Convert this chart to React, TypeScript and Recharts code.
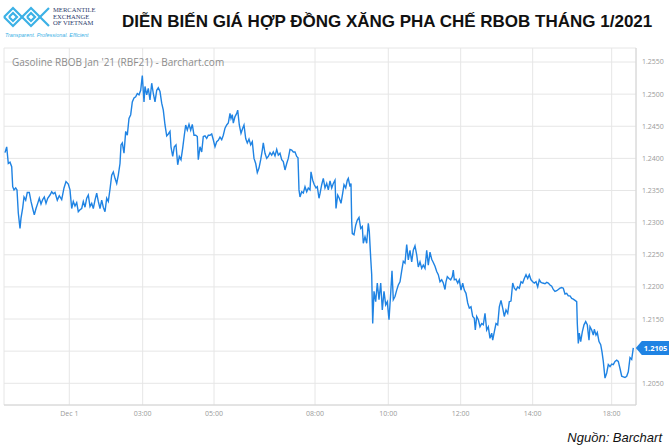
import React from "react";
import {
  LineChart,
  Line,
  XAxis,
  YAxis,
  CartesianGrid,
  ReferenceDot,
} from "recharts";

// time slots along the session axis (chart units)
const slots = [
  5, 6.7, 8.3, 10, 11.7, 12.7, 14, 15.7, 17, 18.3,
  20, 21, 22.7, 24, 25.7, 27.3, 29.3, 31, 32.7, 34.3,
  36, 37.7, 39.3, 41, 42.7, 44.3, 46, 47.7, 50, 51.7,
  53.3, 55, 57.3, 59.3, 61.7, 64, 66, 68.3, 70, 71.7,
  73.3, 75, 76.7, 78.3, 80, 81.7, 83.3, 85, 86.7, 88.3,
  90, 91.7, 93.3, 95, 96.7, 98.3, 100, 101.7, 103.3, 105,
  106.7, 108.3, 110, 111.7, 113.3, 115, 116.7, 118.3, 120, 121,
  122.3, 124, 125.7, 127.3, 129, 130.7, 132.3, 134, 135.7, 137.3,
  139, 140.7, 142.3, 144, 145, 146.7, 148.3, 150, 151.7, 153.3,
  155, 156.7, 158.3, 160, 161.7, 163.3, 165, 166.7, 168.3, 170,
  171, 172.7, 174.3, 176, 177.7, 179.3, 181, 182.7, 184.3, 185.7,
  187.3, 189, 190.7, 192.3, 194, 195.7, 197.3, 198.3, 200, 201.7,
  203.3, 205, 206.7, 208.3, 210, 211.7, 213.3, 215, 216.7, 218.3,
  220, 221.7, 223.3, 225, 226.7, 228.3, 230, 231, 232.3, 233.3,
  235, 236.7, 237.7, 239.3, 241, 242.7, 244, 245.7, 247.3, 249,
  250.7, 252.3, 254, 255.7, 257.3, 259, 260.7, 262.3, 263.3, 265,
  266.7, 268.3, 270, 271.7, 273.3, 275, 276.7, 278.3, 280, 281.7,
  283.3, 285, 286.7, 288.3, 290, 291.7, 293.3, 295, 296.7, 298,
  299, 300, 301.7, 303.3, 305, 306.7, 308.3, 310, 311, 312.7,
  314.3, 316, 317.3, 319, 320, 321.7, 323.3, 325, 326.7, 328.3,
  330, 331.7, 333.3, 335, 336, 337.7, 339.3, 341, 342.7, 344,
  345.7, 347.3, 348.3, 350, 351, 351.7, 352.3, 354, 355.7, 357.3,
  359, 360.7, 362.3, 363.3, 365, 366.7, 368.3, 369.3, 370.7, 371.7,
  372.7, 374, 375.7, 377.3, 379, 380.7, 382.3, 384, 385.7, 387.3,
  389, 390.7, 392, 393.3, 395, 396.7, 398.3, 400, 401.7, 403.3,
  405, 406.7, 408.3, 410, 411.7, 413.3, 415, 416.7, 418.3, 420,
  421.7, 423.3, 425, 426.7, 428.3, 430, 431.7, 433.3, 435, 436.7,
  438.3, 440, 441.7, 443.3, 445, 446, 447.3, 449, 450.7, 452.3,
  453.3, 454.3, 456, 457.7, 459.3, 461, 462.7, 464.3, 466, 467.7,
  469.3, 471, 472.7, 474.3, 475.3, 476.7, 478.3, 480, 481.7, 483.3,
  485, 486.7, 488.3, 490, 491.7, 492.7, 494.3, 496, 497.7, 499.3,
  501, 502.7, 504.3, 506, 507.7, 509.3, 511, 512.7, 514.3, 516,
  517.7, 519.3, 521, 522.7, 524.3, 526, 527.7, 529.3, 531, 532.7,
  534.3, 536, 537.7, 539.3, 541, 542.7, 545, 546.7, 548.3, 550,
  551.7, 553.3, 555, 556.7, 558.3, 560, 561.7, 563.3, 565, 566.7,
  568.3, 570, 571.7, 573.3, 575, 576.7, 577.3, 578.3, 579.3, 580.7,
  582.3, 584, 585.7, 587.3, 589, 590, 591.7, 593.3, 594.3, 596,
  597.3, 599, 600.7, 602, 603.3, 605, 606.7, 608.3, 610, 611.7,
  613.3, 615, 616.7, 618.3, 620, 621.7, 623.3, 625, 626.7, 628.3,
  630, 631.7, 633.3,
];

// RBF21 price at each slot
const prices = [
  1.2409, 1.2418, 1.2392, 1.2394, 1.2387, 1.2356, 1.2351, 1.2354, 1.2351, 1.2315,
  1.2291, 1.2307, 1.2323, 1.234, 1.2335, 1.2347, 1.2347, 1.2333, 1.2322, 1.2312,
  1.2322, 1.233, 1.2338, 1.2329, 1.2336, 1.234, 1.233, 1.2338, 1.2343, 1.2348,
  1.2345, 1.2347, 1.2335, 1.2342, 1.2336, 1.2354, 1.2364, 1.236, 1.2351, 1.2322,
  1.2333, 1.2326, 1.2331, 1.2317, 1.232, 1.2322, 1.2333, 1.2324, 1.2338, 1.2343,
  1.2325, 1.233, 1.2322, 1.2335, 1.2346, 1.2333, 1.2322, 1.2335, 1.2324, 1.2317,
  1.2338, 1.2333, 1.2352, 1.2374, 1.2379, 1.2369, 1.2361, 1.2374, 1.2392, 1.2421,
  1.2424, 1.2408, 1.2442, 1.2436, 1.2462, 1.2468, 1.2488, 1.2494, 1.2496, 1.2501,
  1.2499, 1.2506, 1.2529, 1.2488, 1.2512, 1.2499, 1.2509, 1.2491, 1.2517, 1.2501,
  1.2488, 1.2506, 1.251, 1.2504, 1.2486, 1.2475, 1.2452, 1.2435, 1.2438, 1.2442,
  1.2418, 1.2403, 1.2418, 1.2421, 1.239, 1.2403, 1.2398, 1.2416, 1.2436, 1.2452,
  1.2444, 1.2453, 1.2444, 1.2453, 1.2436, 1.2436, 1.2434, 1.2398, 1.2418, 1.241,
  1.2434, 1.2435, 1.2431, 1.2436, 1.2436, 1.2438, 1.2429, 1.2418, 1.2426, 1.2428,
  1.2433, 1.2429, 1.2436, 1.2447, 1.2452, 1.2455, 1.247, 1.2462, 1.2468, 1.2455,
  1.2465, 1.247, 1.2475, 1.2452, 1.2439, 1.2447, 1.2452, 1.2431, 1.2424, 1.243,
  1.2421, 1.2426, 1.24, 1.2392, 1.2378, 1.2385, 1.2398, 1.2413, 1.2424, 1.2408,
  1.24, 1.2403, 1.2409, 1.2405, 1.241, 1.2404, 1.2414, 1.2405, 1.2408, 1.2398,
  1.2395, 1.2382, 1.2392, 1.24, 1.2414, 1.2413, 1.241, 1.241, 1.2403, 1.2401,
  1.2351, 1.234, 1.2348, 1.2346, 1.2356, 1.2348, 1.2354, 1.2351, 1.2379, 1.2366,
  1.2359, 1.2354, 1.2356, 1.2338, 1.2345, 1.2359, 1.2369, 1.2354, 1.2361, 1.2351,
  1.2365, 1.2354, 1.2361, 1.2366, 1.2322, 1.2343, 1.2338, 1.233, 1.2346, 1.2359,
  1.2354, 1.2366, 1.2369, 1.2356, 1.2361, 1.2302, 1.2283, 1.2281, 1.2296, 1.2304,
  1.2308, 1.2291, 1.2294, 1.2268, 1.2278, 1.2268, 1.2299, 1.2286, 1.2245, 1.2219,
  1.2143, 1.2193, 1.2177, 1.2206, 1.218, 1.2206, 1.2164, 1.2193, 1.2172, 1.2177,
  1.2149, 1.219, 1.2225, 1.218, 1.2185, 1.2195, 1.2203, 1.2208, 1.2225, 1.224,
  1.2237, 1.2266, 1.2242, 1.2257, 1.2239, 1.2257, 1.2264, 1.225, 1.2231, 1.2239,
  1.2229, 1.2234, 1.2229, 1.2257, 1.2234, 1.2254, 1.2243, 1.2238, 1.2232, 1.2224,
  1.2219, 1.2208, 1.2211, 1.2206, 1.2196, 1.2208, 1.2216, 1.2213, 1.2211, 1.2216,
  1.2226, 1.2211, 1.2212, 1.2206, 1.2211, 1.2195, 1.2206, 1.2195, 1.219, 1.2175,
  1.2167, 1.2169, 1.2154, 1.2151, 1.2133, 1.2154, 1.2149, 1.2138, 1.2143, 1.2141,
  1.2159, 1.2133, 1.2138, 1.212, 1.2128, 1.2117, 1.213, 1.2143, 1.2141, 1.2169,
  1.2179, 1.2167, 1.2154, 1.2164, 1.2159, 1.2177, 1.2178, 1.2206, 1.2198, 1.2195,
  1.22, 1.2198, 1.2208, 1.2206, 1.2213, 1.2219, 1.2213, 1.2219, 1.2211, 1.2208,
  1.2206, 1.2208, 1.22, 1.2211, 1.2207, 1.2206, 1.2205, 1.2207, 1.2206, 1.2203,
  1.2201, 1.2196, 1.2193, 1.2194, 1.2196, 1.2198, 1.2199, 1.2198, 1.2189, 1.219,
  1.2186, 1.2186, 1.2182, 1.2181, 1.2179, 1.2177, 1.2143, 1.2112, 1.2128, 1.2115,
  1.213, 1.2141, 1.2146, 1.2141, 1.2117, 1.2138, 1.2133, 1.2125, 1.2134, 1.2125,
  1.2129, 1.2115, 1.211, 1.2099, 1.2084, 1.2058, 1.2066, 1.2079, 1.2076, 1.208,
  1.2079, 1.2084, 1.2086, 1.2084, 1.2073, 1.2061, 1.206, 1.2059, 1.2061, 1.2068,
  1.209, 1.2087, 1.2105,
];

const tickSlots = [69.3, 142.7, 214, 315, 388.3, 460.7, 532.7, 611.7];
const tickLabels = ["Dec 1", "03:00", "05:00", "08:00", "10:00", "12:00", "14:00", "18:00"];
const priceTicks = [1.205, 1.21, 1.215, 1.22, 1.225, 1.23, 1.235, 1.24, 1.245, 1.25, 1.255];

const data = slots
  .slice(0, Math.min(slots.length, prices.length))
  .map((t, i) => ({ t, price: prices[i] }));
const last = data[data.length - 1];

const BLUE = "#1f83e3";
const GRID = "#e6e6e6";
const AXIS_TEXT = { fontSize: 7, fill: "#9a9a9a", fontFamily: "'Open Sans', sans-serif" };

// the last-price flag hides the price tick it sits on
function priceLabel(v: number) {
  return Math.abs(v - last.price) < 0.001 ? "" : v.toFixed(4);
}

function LastPriceFlag(props: any) {
  const { cx, cy } = props;
  if (cx == null || cy == null) return null;
  const x0 = cx + 2.5;
  return (
    <g>
      <path
        d={`M${x0},${cy} L${x0 + 6},${cy - 7} L${x0 + 34},${cy - 7} L${x0 + 34},${cy + 7} L${x0 + 6},${cy + 7} Z`}
        fill={BLUE}
      />
      <text
        x={x0 + 8}
        y={cy}
        dy="0.35em"
        fill="#fff"
        fontSize={7.5}
        fontWeight="bold"
        fontFamily="'Open Sans', sans-serif"
      >
        {last.price.toFixed(4)}
      </text>
    </g>
  );
}

function Logo() {
  return (
    <svg width={110} height={44} style={{ position: "absolute", left: 0, top: 0 }}>
      <g fill="none" stroke="#3cb1e6" strokeWidth={2.2} strokeLinejoin="miter">
        <polyline points="4,17 13,8 22,17 31,8 40,17 49,8" />
        <polyline points="4,17 13,26 22,17 31,26 40,17 49,26" />
        <polyline points="9,17 13,13 17,17 13,21 9,17" />
        <polyline points="27,17 31,13 35,17 31,21 27,17" />
      </g>
      <g fill="#2b3a6b" fontFamily="'Liberation Serif', serif" fontSize={6.6}>
        <text x={53} y={12}>MERCANTILE</text>
        <text x={53} y={18.5}>EXCHANGE</text>
        <text x={53} y={25}>OF VIETNAM</text>
      </g>
      <text
        x={5}
        y={37}
        fill="#3cb1e6"
        fontSize={5.4}
        fontStyle="italic"
        fontFamily="'Liberation Sans', Arial, sans-serif"
      >
        Transparent. Professional. Efficient
      </text>
    </svg>
  );
}

export default function App() {
  return (
    <div
      style={{
        position: "absolute",
        left: 0,
        top: 0,
        width: 669,
        height: 448,
        background: "#fff",
        overflow: "hidden",
      }}
    >
      <LineChart
        width={669}
        height={448}
        data={data}
        margin={{ top: 48, right: 0, bottom: 23, left: 4 }}
      >
        <CartesianGrid stroke={GRID} />
        <XAxis
          dataKey="t"
          type="number"
          domain={[4, 636]}
          ticks={tickSlots}
          tickFormatter={(v: number) => tickLabels[tickSlots.indexOf(v)] ?? ""}
          tickLine={false}
          tickSize={0}
          tickMargin={6}
          axisLine={{ stroke: "#d4d4d4" }}
          tick={AXIS_TEXT}
          height={20}
          interval={0}
          allowDataOverflow
        />
        <YAxis
          orientation="right"
          type="number"
          domain={[1.20162, 1.25718]}
          ticks={priceTicks}
          tickFormatter={priceLabel}
          tickLine={false}
          tickSize={0}
          tickMargin={6}
          axisLine={{ stroke: "#d4d4d4" }}
          tick={AXIS_TEXT}
          width={33}
          interval={0}
          allowDataOverflow
        />
        <Line
          type="linear"
          dataKey="price"
          stroke={BLUE}
          strokeWidth={1.4}
          dot={false}
          isAnimationActive={false}
        />
        <ReferenceDot
          x={last.t}
          y={last.price}
          r={0}
          ifOverflow="visible"
          shape={LastPriceFlag}
        />
      </LineChart>

      <Logo />
      <div
        style={{
          position: "absolute",
          left: 122,
          top: 11,
          fontFamily: "'Liberation Sans', Arial, sans-serif",
          fontWeight: "bold",
          fontSize: 17,
          color: "#111",
          whiteSpace: "nowrap",
          lineHeight: "22px",
        }}
      >
        DIỄN BIẾN GIÁ HỢP ĐỒNG XĂNG PHA CHẾ RBOB THÁNG 1/2021
      </div>
      <div
        style={{
          position: "absolute",
          left: 12,
          top: 55,
          fontFamily: "'Open Sans', sans-serif",
          fontSize: 10,
          color: "#8c8c8c",
          whiteSpace: "nowrap",
          lineHeight: "14px",
        }}
      >
        Gasoline RBOB Jan '21 (RBF21) - Barchart.com
      </div>
      <div
        style={{
          position: "absolute",
          right: 7,
          top: 430,
          fontFamily: "'Liberation Sans', Arial, sans-serif",
          fontStyle: "italic",
          fontSize: 13,
          color: "#111",
          whiteSpace: "nowrap",
          lineHeight: "16px",
        }}
      >
        Nguồn: Barchart
      </div>
    </div>
  );
}
